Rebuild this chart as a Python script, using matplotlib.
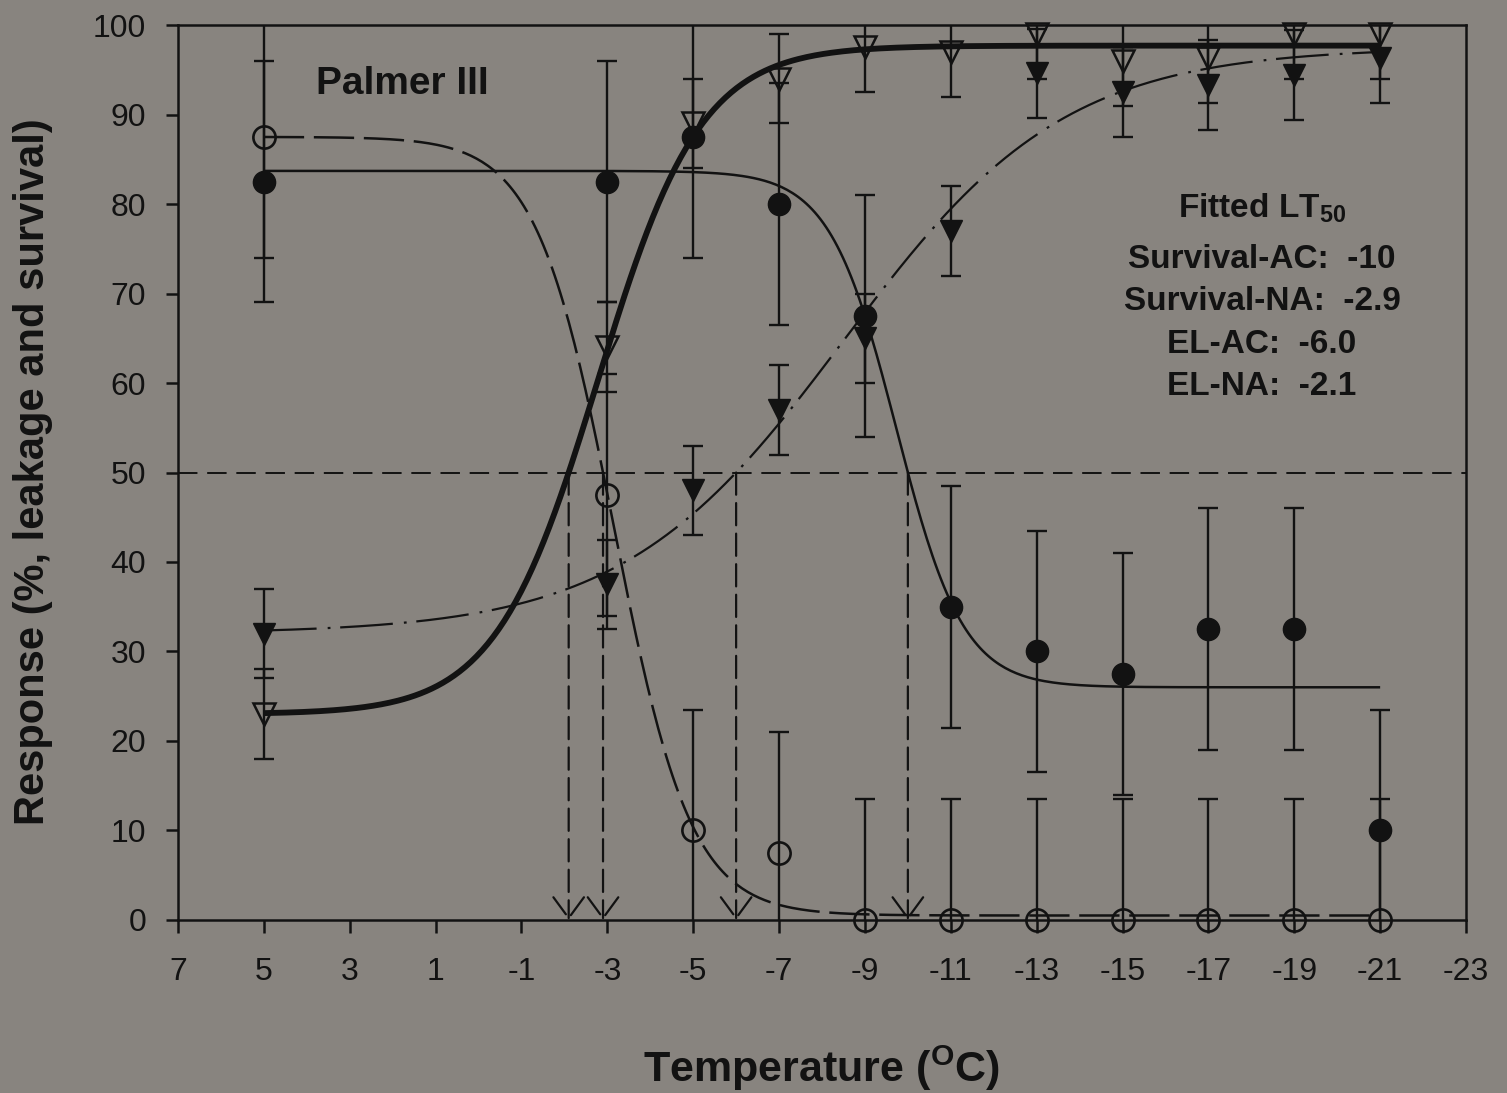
import numpy as np
import matplotlib.pyplot as plt

plt.rcParams['font.family'] = ['Liberation Sans', 'DejaVu Sans']
plt.rcParams['mathtext.fontset'] = 'custom'
plt.rcParams['mathtext.rm'] = 'Liberation Sans'
plt.rcParams['mathtext.bf'] = 'Liberation Sans:bold'
plt.rcParams['axes.unicode_minus'] = False
plt.rcParams['lines.scale_dashes'] = False

# Measurements at each test temperature (mean and error)
temps = [5, -3, -5, -7, -9, -11, -13, -15, -17, -19, -21]

surv_ac = [82.5, 82.5, 87.5, 80, 67.5, 35, 30, 27.5, 32.5, 32.5, 10]
surv_ac_err = [13.5, 13.5, 13.5, 13.5, 13.5, 13.5, 13.5, 13.5, 13.5, 13.5, 13.5]

surv_na = [87.5, 47.5, 10, 7.5, 0, 0, 0, 0, 0, 0, 0]
surv_na_err = [13.5, 13.5, 13.5, 13.5, 13.5, 13.5, 13.5, 13.5, 13.5, 13.5, 13.5]

el_ac = [32, 37.5, 48, 57, 65, 77, 94.6, 92.5, 93.3, 94.4, 96.3]
el_ac_err = [5, 5, 5, 5, 5, 5, 5, 5, 5, 5, 5]

el_na = [23, 64, 89, 94, 97.5, 97, 99, 96, 96.3, 99, 99]
el_na_err = [5, 5, 5, 5, 5, 5, 5, 5, 5, 5, 5]

# Fitted logistic curves: Survival-AC, Survival-NA, EL-AC, EL-NA
fit_names = ['Survival-AC', 'Survival-NA', 'EL-AC', 'EL-NA']
fit_low = [26.0, 0.5, 32.0, 23.0]
fit_high = [83.7, 87.5, 97.5, 97.7]
fit_lt50 = [-10.0, -2.9, -6.0, -2.1]
fit_scale = [0.78, 0.9, 2.58, 1.2]
fit_sign = [-1, -1, 1, 1]   # -1: falls with colder temps, +1: rises

bg = '#88847f'
ink = '#121212'


def logistic(x, low, high, lt, s, sign):
    # midpoint chosen so that the curve crosses 50 % exactly at lt
    g = (50.0 - low) / (high - low)
    xm = lt - sign * s * np.log(1.0 / g - 1.0)
    return low + (high - low) / (1.0 + np.exp(sign * (x - xm) / s))


fig = plt.figure(figsize=(15.07, 10.93), dpi=100, facecolor=bg)
ax = fig.add_axes([0.1181, 0.1583, 0.8547, 0.8188])
ax.set_facecolor(bg)

xs = np.linspace(5, -21, 400)
curve_styles = [
    dict(lw=1.8, linestyle='-'),
    dict(lw=1.8, linestyle=(0, (29, 7))),
    dict(lw=1.6, linestyle=(0, (38, 8, 2, 7))),
    dict(lw=4.2, linestyle='-'),
]
for i in range(4):
    ys = logistic(xs, fit_low[i], fit_high[i], fit_lt50[i], fit_scale[i], fit_sign[i])
    ax.plot(xs, ys, color=ink, solid_capstyle='butt', **curve_styles[i])

# 50 % reference line and LT50 drop lines
ax.axhline(50, color=ink, lw=1.4, linestyle=(0, (14, 7)))
for lt in fit_lt50:
    ax.annotate('', xy=(lt, 0), xytext=(lt, 50),
                arrowprops=dict(arrowstyle='->,head_length=0.75,head_width=0.55',
                                color=ink, lw=1.6, linestyle=(0, (16, 6)),
                                shrinkA=0, shrinkB=0, mutation_scale=20))

# error bars
for vals, err in [(surv_ac, surv_ac_err), (surv_na, surv_na_err),
                  (el_ac, el_ac_err), (el_na, el_na_err)]:
    ax.errorbar(temps, vals, yerr=err, fmt='none', ecolor=ink,
                elinewidth=1.7, capsize=7, capthick=1.7)

# symbols
ax.plot(temps, surv_ac, 'o', ms=16, color=ink, clip_on=False, zorder=5)
ax.plot(temps, surv_na, 'o', ms=16, mfc='none', mec=ink, mew=1.9, clip_on=False, zorder=5)
ax.plot(temps, el_ac, 'v', ms=16, color=ink, clip_on=False, zorder=5)
ax.plot(temps, el_na, 'v', ms=16, mfc='none', mec=ink, mew=1.8, clip_on=False, zorder=5)

ax.set_xlim(7, -23)
ax.set_ylim(0, 100)
ax.set_xticks(np.arange(7, -24, -2))
ax.set_yticks(np.arange(0, 101, 10))
for sp in ax.spines.values():
    sp.set_linewidth(1.8)
    sp.set_color(ink)
ax.tick_params(axis='x', direction='out', length=9, width=1.8, color=ink,
               labelsize=23, labelcolor=ink, pad=18)
ax.tick_params(axis='y', direction='out', length=9, width=1.8, color=ink,
               labelsize=23, labelcolor=ink, pad=14)

ax.text(3.79, 92.3, 'Palmer III', fontsize=28, fontweight='bold', color=ink,
        ha='left', va='baseline')

ax.text(-18.25, 78.5, r'Fitted LT$_{\mathbf{50}}$', fontsize=24, fontweight='bold',
        color=ink, ha='center', va='baseline')
line_y = [72.8, 68.2, 63.4, 58.7]
for name, lt, yy in zip(fit_names, fit_lt50, line_y):
    val = '{:.0f}'.format(lt) if abs(lt) >= 10 else '{:.1f}'.format(lt)
    ax.text(-18.25, yy, name + ':  ' + val, fontsize=24, fontweight='bold',
            color=ink, ha='center', va='baseline')

fig.text(822 / 1507, 1 - 1068 / 1093, r'Temperature ($\mathbf{^{O}}$C)',
         fontsize=31, fontweight='bold', color=ink, ha='center', va='center')
fig.text(33 / 1507, 1 - 472 / 1093, 'Response (%, leakage and survival)',
         fontsize=30, fontweight='bold', color=ink, ha='center', va='center',
         rotation=90)

fig.savefig('out.png', dpi=100, facecolor=bg)
